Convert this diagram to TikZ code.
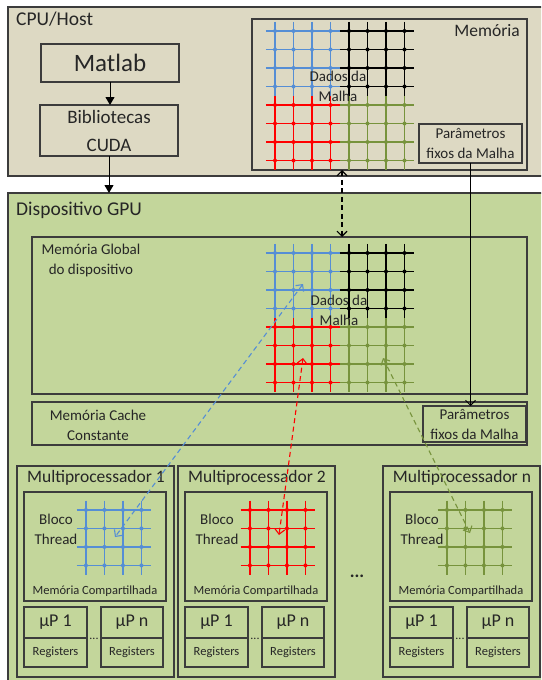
\documentclass[tikz,border=0pt]{standalone}
\usepackage{fontspec}
\setmainfont{Carlito}
\usetikzlibrary{arrows.meta,calc}

\definecolor{hostbg}{RGB}{221,217,195}
\definecolor{devbg}{RGB}{195,214,155}
\definecolor{frame}{RGB}{60,60,60}
\definecolor{gblue}{RGB}{85,142,213}
\definecolor{gred}{RGB}{255,0,0}
\definecolor{ggreen}{RGB}{119,147,60}
\definecolor{gblack}{RGB}{0,0,0}

\newcommand{\fs}[2]{\fontsize{#1}{#2}\selectfont}

\begin{document}
\begin{tikzpicture}[x=1pt, y=-1pt,
    font=\fs{15}{20},
    box/.style={draw=frame, line width=1.3pt, inner sep=0pt, outer sep=0pt,
                anchor=north west, align=center, text=black!85},
    lbl/.style={inner sep=0pt, align=center, text=black!85},
    gl/.style={line width=1.2pt},
    op/.style={-{Triangle[length=8pt,width=9pt]}, line width=1pt, black},
    link/.style={{Straight Barb[length=5pt,width=10pt]}-{Straight Barb[length=5pt,width=10pt]},
                 line width=1.1pt, dash pattern=on 5pt off 3.5pt},
    pics/quad/.style={code={
      \foreach \k in {0,...,3} {
        \draw[gl, color=#1] (0,9.25+18.5*\k) -- ++(74,0);
        \draw[gl, color=#1] (9.25+18.5*\k,0) -- ++(0,74);
      }
      \foreach \i in {0,...,3} \foreach \j in {0,...,3}
        \fill[fill=#1] (9.25+18.5*\i,9.25+18.5*\j) circle (2pt);
    }},
  ]
  \useasboundingbox (0,0) rectangle (541,680);
  \clip (0,0) rectangle (541,680);

  % host side
  \node[box, fill=hostbg, minimum width=545pt, minimum height=169pt] (host) at (8,7) {};
  \node[lbl, anchor=base west, font=\fs{19.5}{23}] (hostlbl) at (16,25) {CPU/Host};
  \node[box, minimum width=138pt, minimum height=38pt, font=\fs{25}{30}] (matlab) at (41,44) {Matlab};
  \node[box, minimum width=138pt, minimum height=51pt, font=\fs{19}{28}] (cuda) at (40,105) {Bibliotecas\\CUDA};

  % host memory
  \node[box, minimum width=275pt, minimum height=151pt] (hmem) at (252,19) {};
  \node[lbl, anchor=base east, font=\fs{17.5}{21}] (hmemlbl) at (520,36) {Memória};
  \pic at (265.75,21.75) {quad=gblue};
  \pic at (339.75,21.75) {quad=gblack};
  \pic at (265.75,95.75) {quad=gred};
  \pic at (339.75,95.75) {quad=ggreen};
  \node[lbl, anchor=base] (hdata) at (338,101) {Dados da\\Malha};
  \node[box, minimum width=103pt, minimum height=39pt] (hparam) at (419,124) {Parâmetros\\fixos da Malha};

  % device side
  \node[box, fill=devbg, minimum width=545pt, minimum height=500pt] (dev) at (8,193) {};
  \node[lbl, anchor=base west, font=\fs{19.5}{23}] (devlbl) at (16,215) {Dispositivo GPU};

  % global memory
  \node[box, minimum width=495pt, minimum height=157pt] (gmem) at (32,237) {};
  \node[lbl, anchor=base] (gmemlbl) at (91,274) {Memória Global\\do dispositivo};
  \pic at (265.75,243.75) {quad=gblue};
  \pic at (339.75,243.75) {quad=gblack};
  \pic at (265.75,317.75) {quad=gred};
  \pic at (339.75,317.75) {quad=ggreen};
  \node[lbl, anchor=base] (gdata) at (339,325) {Dados da\\Malha};

  % constant cache
  \node[box, minimum width=495pt, minimum height=43pt] (cmem) at (32,402) {};
  \node[lbl, anchor=base] (cmemlbl) at (98,440) {Memória Cache\\Constante};
  \node[box, minimum width=103pt, minimum height=36pt] (cparam) at (423,406) {Parâmetros\\fixos da Malha};

  % multiprocessors
  \foreach \dx/\col/\lab/\gs in {0/gblue/1/0, 161/gred/2/3, 366/ggreen/n/-5} {
    \node[box, minimum width=157pt, minimum height=211pt] (mp\lab) at (17+\dx,466) {};
    \node[lbl, anchor=base, font=\fs{17.5}{21}] (mptitle\lab) at (96+\dx,482) {Multiprocessador \lab};
    \node[box, minimum width=142pt, minimum height=109pt] (shm\lab) at (24+\dx,492) {};
    \node[lbl, anchor=base] (blk\lab) at (56+\dx,544) {Bloco\\Thread};
    \pic at (76.7+\dx+\gs,500.7) {quad=\col};
    \node[lbl, anchor=base, font=\fs{12.5}{15}] (shmlbl\lab) at (95+\dx,594) {Memória Compartilhada};
    \node[box, minimum width=63pt, minimum height=31pt, font=\fs{18}{21}] (upa\lab) at (24+\dx,607) {µP 1};
    \node[box, minimum width=63pt, minimum height=29pt, font=\fs{12.5}{15}] (rga\lab) at (24+\dx,638) {Registers};
    \node[box, minimum width=62pt, minimum height=31pt, font=\fs{18}{21}] (upb\lab) at (101+\dx,607) {µP n};
    \node[box, minimum width=62pt, minimum height=29pt, font=\fs{12.5}{15}] (rgb\lab) at (101+\dx,638) {Registers};
    \node[lbl, anchor=base, font=\fs{12}{14}] (updots\lab) at (94+\dx,639.5) {...};
  }
  \node[lbl, anchor=base, font=\fs{18}{21}\bfseries] (mpdots) at (357,577) {...};

  % transfer points
  \coordinate (hport) at (342,170);
  \coordinate (dport) at (342,237);
  \coordinate (qblue) at (303,284);
  \coordinate (qred) at (303,358);
  \coordinate (qgreen) at (383,358);
  \coordinate (tblue) at (115,537);
  \coordinate (tred) at (279,535);
  \coordinate (tgreen) at (470,533);

  \draw[op] (matlab.south) -- (matlab.south |- cuda.north);
  \draw[op] (cuda.south) -- (cuda.south |- dev.north);
  \draw[link, black] (hport) -- (dport);
  \draw[-{Straight Barb[length=5pt,width=10pt]}, line width=1pt, black]
    (hparam.south) -- (hparam.south |- cparam.north);
  \draw[link, gblue] (qblue) -- (tblue);
  \draw[link, gred] (qred) -- (tred);
  \draw[link, ggreen] (qgreen) -- (tgreen);
\end{tikzpicture}
\end{document}
